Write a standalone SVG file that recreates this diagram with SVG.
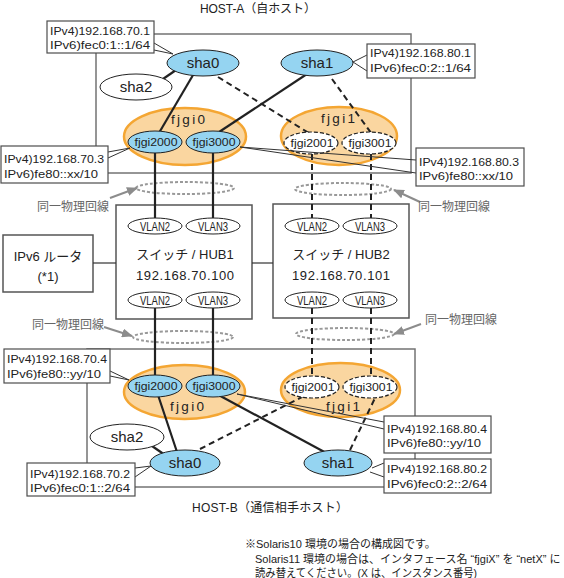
<svg xmlns="http://www.w3.org/2000/svg" width="564" height="578" viewBox="0 0 564 578">
<defs>
<marker id="garrow" markerUnits="userSpaceOnUse" markerWidth="11" markerHeight="9" refX="10" refY="4.5" orient="auto" viewBox="0 0 11 9">
<path d="M0,0 L11,4.5 L0,9 z" fill="#8c8c8c"/>
</marker>
<style>
.host{fill:none;stroke:#737373;stroke-width:1.5}
.lbl{fill:#fff;stroke:#4d4d4d;stroke-width:1.2}
.wedge{fill:none;stroke:#333;stroke-width:1}
.sha{fill:#95d4f1;stroke:#222;stroke-width:1}
.wh{fill:#fff;stroke:#222;stroke-width:1}
.grp{fill:#fad6a0;stroke:#f4a633;stroke-width:2.5}
.ifs{fill:#fff;stroke:#222;stroke-width:1.2;stroke-dasharray:4 2}
.sw{fill:#fff;stroke:#555;stroke-width:1.5}
.solid{stroke:#222;stroke-width:2.2;fill:none}
.dash{stroke:#222;stroke-width:2;stroke-dasharray:6 4;fill:none}
.thin{stroke:#333;stroke-width:1.2;fill:none}
.ring{fill:none;stroke:#999;stroke-width:2;stroke-dasharray:3 2}
.garr{stroke:#8c8c8c;stroke-width:2;fill:none}
text{font-family:"Liberation Sans","Noto Sans CJK JP",sans-serif;fill:#222}
.lt{font-size:11.5px}
.nm{font-size:15px;text-anchor:middle}
.gn{font-size:13.5px;text-anchor:middle}
.ifn{font-size:10.5px;text-anchor:middle}
.vl{font-size:12.5px;text-anchor:middle}
.swt{font-size:13px;text-anchor:middle}
.same{font-size:12px;fill:#666}
.ttl{font-size:12px}
.note{font-size:11px}
</style>
</defs>

<g id="host-a-frame">
<rect class="host" x="96" y="34" width="315" height="139"/>
<text class="ttl" x="200" y="13" textLength="116" lengthAdjust="spacing">HOST-A（自ホスト）</text>
</g>
<g id="host-b-frame">
<rect class="host" x="87" y="349" width="328" height="138"/>
<text class="ttl" x="192" y="512" textLength="156" lengthAdjust="spacing">HOST-B（通信相手ホスト）</text>
</g>

<g id="router">
<rect class="sw" x="3" y="235" width="90" height="57"/>
<text class="swt" x="48" y="261">IPv6 ルータ</text>
<text class="swt" x="48" y="281">(*1)</text>
</g>
<g id="hub1">
<rect class="sw" x="116" y="205" width="136" height="114"/>
<text class="swt" x="185" y="259">スイッチ / HUB1</text>
<text class="swt" x="185" y="280" textLength="98" lengthAdjust="spacing">192.168.70.100</text>
</g>
<g id="hub2">
<rect class="sw" x="273" y="204" width="136" height="114"/>
<text class="swt" x="341" y="259">スイッチ / HUB2</text>
<text class="swt" x="341" y="280" textLength="98" lengthAdjust="spacing">192.168.70.101</text>
</g>

<g id="physical-lines">
<ellipse class="ring" cx="185" cy="188" rx="49" ry="6"/>
<ellipse class="ring" cx="343" cy="189" rx="48" ry="6"/>
<ellipse class="ring" cx="183" cy="337" rx="50" ry="6"/>
<ellipse class="ring" cx="345" cy="334" rx="49" ry="6"/>
<line class="garr" x1="110" y1="198" x2="137" y2="188" marker-end="url(#garrow)"/>
<line class="garr" x1="420" y1="202" x2="394" y2="190" marker-end="url(#garrow)"/>
<line class="garr" x1="104" y1="327" x2="132" y2="336" marker-end="url(#garrow)"/>
<line class="garr" x1="421" y1="324" x2="394" y2="334" marker-end="url(#garrow)"/>
<text class="same" x="37" y="211">同一物理回線</text>
<text class="same" x="418" y="211">同一物理回線</text>
<text class="same" x="32" y="329">同一物理回線</text>
<text class="same" x="425" y="324">同一物理回線</text>
</g>

<g id="a-fjgi0"><ellipse class="grp" cx="185" cy="136.5" rx="61" ry="28.5"/><text class="gn" x="188" y="124" textLength="34" lengthAdjust="spacing">fjgi0</text></g>
<g id="a-fjgi1"><ellipse class="grp" cx="339" cy="136" rx="58" ry="29"/><text class="gn" x="338" y="123" textLength="34" lengthAdjust="spacing">fjgi1</text></g>
<g id="b-fjgi0"><ellipse class="grp" cx="184.5" cy="392" rx="60.5" ry="27"/><text class="gn" x="187" y="411" textLength="34" lengthAdjust="spacing">fjgi0</text></g>
<g id="b-fjgi1"><ellipse class="grp" cx="340.5" cy="390" rx="59.5" ry="27"/><text class="gn" x="343" y="411" textLength="34" lengthAdjust="spacing">fjgi1</text></g>

<g id="connectors">
<line class="thin" x1="93" y1="263" x2="116" y2="263"/>
<line class="thin" x1="252" y1="263" x2="273" y2="263"/>
<line class="solid" x1="196" y1="70" x2="156" y2="138"/>
<line class="solid" x1="310" y1="72" x2="213" y2="136"/>
<line class="dash" x1="218" y1="77" x2="312" y2="135"/>
<line class="dash" x1="332" y1="79" x2="374" y2="137"/>
<line class="solid" x1="163" y1="79" x2="176" y2="70"/>
<line class="solid" x1="155" y1="150" x2="155" y2="219"/>
<line class="solid" x1="213" y1="150" x2="213" y2="219"/>
<line class="dash" x1="312" y1="154" x2="312" y2="219"/>
<line class="dash" x1="371" y1="154" x2="371" y2="219"/>
<line class="solid" x1="155" y1="307" x2="155" y2="377"/>
<line class="solid" x1="213" y1="307" x2="213" y2="377"/>
<line class="dash" x1="312" y1="308" x2="312" y2="377"/>
<line class="dash" x1="371" y1="308" x2="371" y2="377"/>
<line class="solid" x1="157" y1="392" x2="178" y2="455"/>
<line class="solid" x1="213" y1="392" x2="330" y2="455"/>
<line class="dash" x1="200" y1="449" x2="306" y2="395"/>
<line class="dash" x1="350" y1="450" x2="376" y2="396"/>
<line class="solid" x1="152" y1="446" x2="165" y2="455"/>
</g>

<g id="a-sha0"><ellipse class="sha" cx="203" cy="63" rx="36" ry="13"/><text class="nm" x="203" y="68">sha0</text></g>
<g id="a-sha1"><ellipse class="sha" cx="317" cy="63" rx="36" ry="13"/><text class="nm" x="317" y="68">sha1</text></g>
<g id="a-sha2"><ellipse class="wh" cx="136" cy="87" rx="36" ry="13"/><text class="nm" x="136" y="92">sha2</text></g>
<g id="a-fjgi2000"><ellipse class="sha" cx="155" cy="142" rx="27" ry="11"/><text class="ifn" x="156" y="146" textLength="43" lengthAdjust="spacingAndGlyphs">fjgi2000</text></g>
<g id="a-fjgi3000"><ellipse class="sha" cx="213" cy="142" rx="27" ry="11"/><text class="ifn" x="214" y="146" textLength="43" lengthAdjust="spacingAndGlyphs">fjgi3000</text></g>
<g id="a-fjgi2001"><ellipse class="ifs" cx="311" cy="143" rx="27" ry="11"/><text class="ifn" x="312" y="147" textLength="43" lengthAdjust="spacingAndGlyphs">fjgi2001</text></g>
<g id="a-fjgi3001"><ellipse class="ifs" cx="369" cy="143" rx="27" ry="11"/><text class="ifn" x="370" y="147" textLength="43" lengthAdjust="spacingAndGlyphs">fjgi3001</text></g>

<g id="hub1-vlan2-top"><ellipse class="wh" cx="155" cy="226" rx="27" ry="8"/><text class="vl" x="155" y="230.5" textLength="30" lengthAdjust="spacingAndGlyphs">VLAN2</text></g>
<g id="hub1-vlan3-top"><ellipse class="wh" cx="213" cy="226" rx="27" ry="8"/><text class="vl" x="213" y="230.5" textLength="30" lengthAdjust="spacingAndGlyphs">VLAN3</text></g>
<g id="hub1-vlan2-bottom"><ellipse class="wh" cx="155" cy="300" rx="27" ry="8"/><text class="vl" x="155" y="304.5" textLength="30" lengthAdjust="spacingAndGlyphs">VLAN2</text></g>
<g id="hub1-vlan3-bottom"><ellipse class="wh" cx="213" cy="300" rx="27" ry="8"/><text class="vl" x="213" y="304.5" textLength="30" lengthAdjust="spacingAndGlyphs">VLAN3</text></g>
<g id="hub2-vlan2-top"><ellipse class="wh" cx="312" cy="226" rx="27" ry="8"/><text class="vl" x="312" y="230.5" textLength="30" lengthAdjust="spacingAndGlyphs">VLAN2</text></g>
<g id="hub2-vlan3-top"><ellipse class="wh" cx="370" cy="226" rx="27" ry="8"/><text class="vl" x="370" y="230.5" textLength="30" lengthAdjust="spacingAndGlyphs">VLAN3</text></g>
<g id="hub2-vlan2-bottom"><ellipse class="wh" cx="312" cy="300" rx="27" ry="8"/><text class="vl" x="312" y="304.5" textLength="30" lengthAdjust="spacingAndGlyphs">VLAN2</text></g>
<g id="hub2-vlan3-bottom"><ellipse class="wh" cx="370" cy="300" rx="27" ry="8"/><text class="vl" x="370" y="304.5" textLength="30" lengthAdjust="spacingAndGlyphs">VLAN3</text></g>

<g id="b-fjgi2000"><ellipse class="sha" cx="155" cy="386" rx="27" ry="11"/><text class="ifn" x="156" y="390" textLength="43" lengthAdjust="spacingAndGlyphs">fjgi2000</text></g>
<g id="b-fjgi3000"><ellipse class="sha" cx="213" cy="386" rx="27" ry="11"/><text class="ifn" x="214" y="390" textLength="43" lengthAdjust="spacingAndGlyphs">fjgi3000</text></g>
<g id="b-fjgi2001"><ellipse class="ifs" cx="312" cy="387" rx="27" ry="11"/><text class="ifn" x="313" y="391" textLength="43" lengthAdjust="spacingAndGlyphs">fjgi2001</text></g>
<g id="b-fjgi3001"><ellipse class="ifs" cx="370" cy="387" rx="27" ry="11"/><text class="ifn" x="371" y="391" textLength="43" lengthAdjust="spacingAndGlyphs">fjgi3001</text></g>
<g id="b-sha2"><ellipse class="wh" cx="127" cy="437" rx="37" ry="13"/><text class="nm" x="127" y="442">sha2</text></g>
<g id="b-sha0"><ellipse class="sha" cx="185" cy="463" rx="35" ry="13"/><text class="nm" x="185" y="468">sha0</text></g>
<g id="b-sha1"><ellipse class="sha" cx="338" cy="463" rx="34" ry="13"/><text class="nm" x="338" y="468">sha1</text></g>

<g id="label-a-sha0">
<polyline class="wedge" points="154,43 173,54 154,50"/>
<rect class="lbl" x="47" y="21" width="107" height="32"/>
<text class="lt" x="50" y="35" textLength="100" lengthAdjust="spacingAndGlyphs">IPv4)192.168.70.1</text>
<text class="lt" x="50" y="49" textLength="100" lengthAdjust="spacingAndGlyphs">IPv6)fec0:1::1/64</text>
</g>
<g id="label-a-sha1">
<polyline class="wedge" points="367,55 353,62 367,71"/>
<rect class="lbl" x="367" y="44" width="108" height="34"/>
<text class="lt" x="370" y="57" textLength="101" lengthAdjust="spacingAndGlyphs">IPv4)192.168.80.1</text>
<text class="lt" x="370" y="72" textLength="101" lengthAdjust="spacingAndGlyphs">IPv6)fec0:2::1/64</text>
</g>
<g id="label-a-fjgi0">
<polyline class="wedge" points="108,152 130,148 108,158"/>
<rect class="lbl" x="1" y="146" width="107" height="37"/>
<text class="lt" x="4" y="163" textLength="100" lengthAdjust="spacingAndGlyphs">IPv4)192.168.70.3</text>
<text class="lt" x="4" y="178" textLength="94" lengthAdjust="spacingAndGlyphs">IPv6)fe80::xx/10</text>
</g>
<g id="label-a-fjgi1">
<polyline class="wedge" points="416,160 240,147 416,173"/>
<rect class="lbl" x="416" y="148" width="108" height="38"/>
<text class="lt" x="419" y="166" textLength="100" lengthAdjust="spacingAndGlyphs">IPv4)192.168.80.3</text>
<text class="lt" x="419" y="180" textLength="94" lengthAdjust="spacingAndGlyphs">IPv6)fe80::xx/10</text>
</g>
<g id="label-b-fjgi0">
<polyline class="wedge" points="110,371 129,380 110,376"/>
<rect class="lbl" x="4" y="349" width="106" height="34"/>
<text class="lt" x="7" y="363" textLength="100" lengthAdjust="spacingAndGlyphs">IPv4)192.168.70.4</text>
<text class="lt" x="7" y="378" textLength="94" lengthAdjust="spacingAndGlyphs">IPv6)fe80::yy/10</text>
</g>
<g id="label-b-sha0">
<polyline class="wedge" points="135,468 151,466 135,477"/>
<rect class="lbl" x="27" y="463" width="108" height="33"/>
<text class="lt" x="30" y="478" textLength="100" lengthAdjust="spacingAndGlyphs">IPv4)192.168.70.2</text>
<text class="lt" x="30" y="492" textLength="100" lengthAdjust="spacingAndGlyphs">IPv6)fec0:1::2/64</text>
</g>
<g id="label-b-fjgi1">
<polyline class="wedge" points="384,422 237,394 384,429"/>
<rect class="lbl" x="384" y="416" width="107" height="37"/>
<text class="lt" x="387" y="433" textLength="100" lengthAdjust="spacingAndGlyphs">IPv4)192.168.80.4</text>
<text class="lt" x="387" y="447" textLength="94" lengthAdjust="spacingAndGlyphs">IPv6)fe80::yy/10</text>
</g>
<g id="label-b-sha1">
<line class="wedge" x1="384" y1="463" x2="372" y2="468"/>
<line class="wedge" x1="370" y1="472" x2="384" y2="477"/>
<rect class="lbl" x="384" y="459" width="107" height="34"/>
<text class="lt" x="387" y="473" textLength="100" lengthAdjust="spacingAndGlyphs">IPv4)192.168.80.2</text>
<text class="lt" x="387" y="488" textLength="100" lengthAdjust="spacingAndGlyphs">IPv6)fec0:2::2/64</text>
</g>

<g id="note">
<text class="note" x="245" y="548">※Solaris10 環境の場合の構成図です。</text>
<text class="note" x="255" y="563">Solaris11 環境の場合は、インタフェース名 “fjgiX” を “netX” に</text>
<text class="note" x="255" y="577" textLength="222" lengthAdjust="spacingAndGlyphs">読み替えてください。(X は、インスタンス番号)</text>
</g>
</svg>
